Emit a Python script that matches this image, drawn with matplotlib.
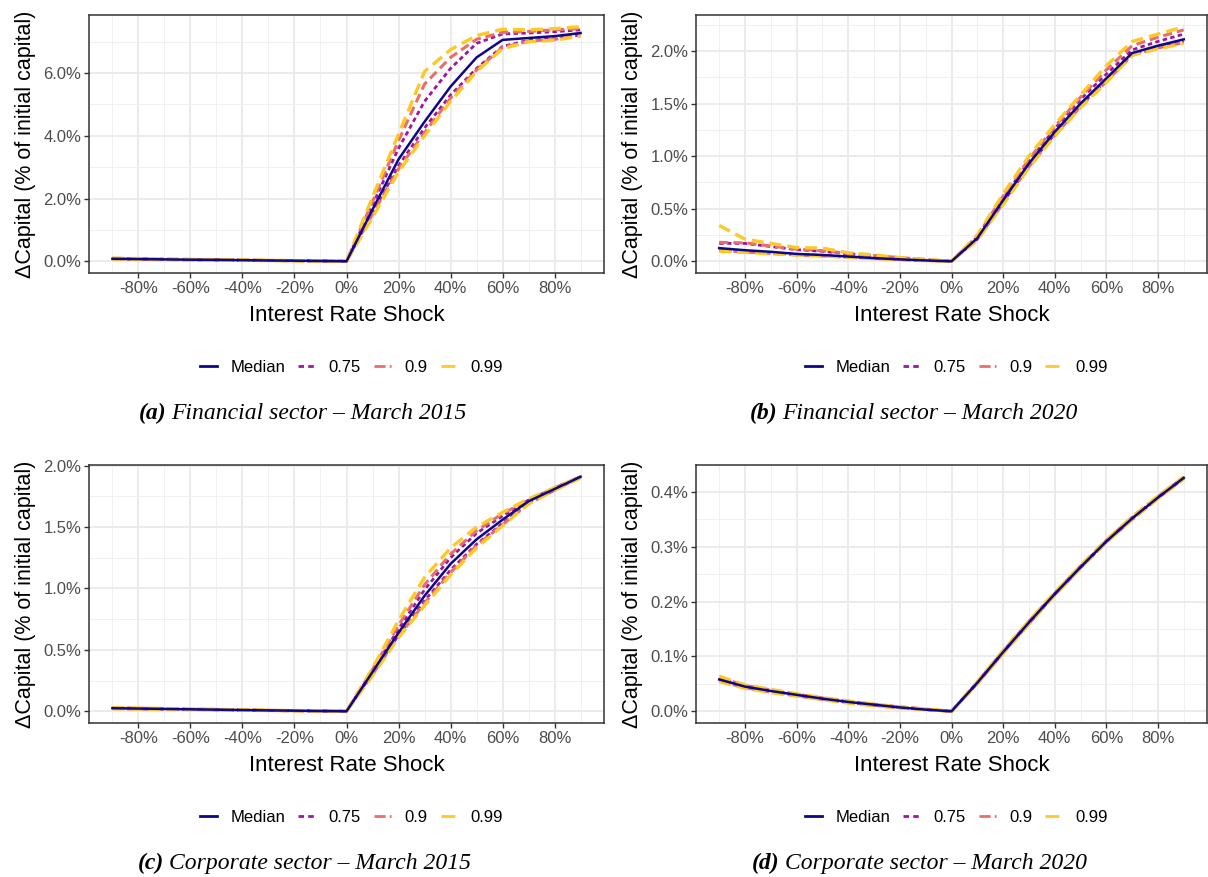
import numpy as np
import matplotlib
matplotlib.use("Agg")
import matplotlib.pyplot as plt
from matplotlib.ticker import FixedLocator

plt.rcParams["font.family"] = ["Liberation Sans", "DejaVu Sans"]

shock = [-90, -80, -70, -60, -50, -40, -30, -20, -10, 0, 10, 20, 30, 40, 50, 60, 70, 80, 90]

# (a) Financial sector - March 2015
a_med   = [0.080, 0.070, 0.060, 0.050, 0.045, 0.035, 0.025, 0.018, 0.010, 0, 1.65, 3.25, 4.45, 5.57, 6.50, 7.06, 7.12, 7.18, 7.28]
a_q75lo = [0.075, 0.065, 0.056, 0.047, 0.042, 0.032, 0.023, 0.016, 0.009, 0, 1.55, 3.05, 4.25, 5.30, 6.15, 6.85, 7.05, 7.10, 7.22]
a_q75hi = [0.090, 0.078, 0.066, 0.055, 0.049, 0.038, 0.028, 0.020, 0.011, 0, 1.80, 3.60, 5.10, 6.15, 6.95, 7.25, 7.28, 7.32, 7.38]
a_q90lo = [0.072, 0.062, 0.054, 0.045, 0.040, 0.031, 0.022, 0.015, 0.008, 0, 1.50, 2.95, 4.10, 5.20, 6.10, 6.82, 7.02, 7.08, 7.20]
a_q90hi = [0.095, 0.082, 0.070, 0.058, 0.051, 0.040, 0.030, 0.021, 0.012, 0, 1.90, 3.85, 5.65, 6.50, 7.08, 7.30, 7.33, 7.38, 7.42]
a_q99lo = [0.068, 0.058, 0.050, 0.042, 0.038, 0.029, 0.020, 0.014, 0.007, 0, 1.40, 2.85, 4.00, 5.10, 6.05, 6.78, 7.00, 7.05, 7.18]
a_q99hi = [0.100, 0.086, 0.074, 0.062, 0.054, 0.043, 0.032, 0.023, 0.013, 0, 2.05, 4.05, 6.05, 6.75, 7.20, 7.40, 7.38, 7.42, 7.48]

# (b) Financial sector - March 2020
b_med   = [0.125, 0.105, 0.090, 0.070, 0.060, 0.045, 0.030, 0.018, 0.008, 0, 0.22, 0.58, 0.93, 1.23, 1.50, 1.74, 1.98, 2.05, 2.11]
b_q75lo = [0.105, 0.090, 0.080, 0.065, 0.055, 0.040, 0.028, 0.016, 0.007, 0, 0.21, 0.56, 0.91, 1.21, 1.48, 1.72, 1.97, 2.03, 2.09]
b_q75hi = [0.170, 0.170, 0.140, 0.110, 0.095, 0.070, 0.050, 0.030, 0.015, 0, 0.23, 0.60, 0.95, 1.26, 1.54, 1.78, 2.01, 2.09, 2.16]
b_q90lo = [0.100, 0.090, 0.075, 0.060, 0.050, 0.040, 0.027, 0.015, 0.007, 0, 0.21, 0.55, 0.90, 1.20, 1.47, 1.71, 1.96, 2.03, 2.08]
b_q90hi = [0.180, 0.175, 0.145, 0.115, 0.100, 0.075, 0.055, 0.035, 0.017, 0, 0.24, 0.62, 0.97, 1.28, 1.56, 1.82, 2.05, 2.13, 2.20]
b_q99lo = [0.095, 0.085, 0.070, 0.060, 0.050, 0.038, 0.025, 0.015, 0.006, 0, 0.20, 0.54, 0.89, 1.19, 1.46, 1.70, 1.96, 2.02, 2.07]
b_q99hi = [0.340, 0.210, 0.170, 0.130, 0.125, 0.080, 0.060, 0.035, 0.018, 0, 0.25, 0.64, 1.00, 1.30, 1.58, 1.86, 2.09, 2.16, 2.23]

# (c) Corporate sector - March 2015
c_med   = [0.025, 0.022, 0.019, 0.016, 0.013, 0.010, 0.007, 0.005, 0.002, 0, 0.32, 0.64, 0.94, 1.20, 1.40, 1.56, 1.71, 1.81, 1.91]
c_q75lo = [0.023, 0.020, 0.017, 0.015, 0.012, 0.009, 0.006, 0.004, 0.002, 0, 0.31, 0.62, 0.90, 1.15, 1.36, 1.53, 1.70, 1.81, 1.91]
c_q75hi = [0.027, 0.024, 0.021, 0.017, 0.014, 0.011, 0.008, 0.005, 0.003, 0, 0.33, 0.67, 0.99, 1.25, 1.45, 1.59, 1.72, 1.82, 1.91]
c_q90lo = [0.022, 0.019, 0.016, 0.014, 0.011, 0.009, 0.006, 0.004, 0.002, 0, 0.30, 0.61, 0.88, 1.13, 1.35, 1.52, 1.69, 1.80, 1.91]
c_q90hi = [0.028, 0.025, 0.022, 0.018, 0.015, 0.012, 0.008, 0.005, 0.003, 0, 0.34, 0.70, 1.03, 1.28, 1.47, 1.61, 1.72, 1.82, 1.91]
c_q99lo = [0.021, 0.018, 0.015, 0.013, 0.011, 0.008, 0.006, 0.004, 0.002, 0, 0.29, 0.60, 0.86, 1.11, 1.33, 1.51, 1.69, 1.80, 1.90]
c_q99hi = [0.030, 0.026, 0.023, 0.019, 0.016, 0.012, 0.009, 0.006, 0.003, 0, 0.35, 0.74, 1.09, 1.33, 1.50, 1.62, 1.73, 1.82, 1.91]

# (d) Corporate sector - March 2020
d_med   = [0.058, 0.045, 0.037, 0.030, 0.023, 0.017, 0.012, 0.007, 0.003, 0, 0.052, 0.108, 0.162, 0.214, 0.263, 0.310, 0.352, 0.390, 0.426]
d_q75lo = [0.056, 0.044, 0.036, 0.029, 0.022, 0.016, 0.011, 0.007, 0.003, 0, 0.051, 0.107, 0.161, 0.213, 0.262, 0.309, 0.351, 0.389, 0.425]
d_q75hi = [0.060, 0.046, 0.038, 0.031, 0.024, 0.018, 0.012, 0.008, 0.004, 0, 0.053, 0.109, 0.163, 0.215, 0.264, 0.311, 0.353, 0.391, 0.427]
d_q90lo = [0.055, 0.043, 0.035, 0.028, 0.022, 0.016, 0.011, 0.006, 0.003, 0, 0.051, 0.106, 0.160, 0.212, 0.262, 0.309, 0.350, 0.389, 0.425]
d_q90hi = [0.062, 0.047, 0.039, 0.031, 0.024, 0.018, 0.013, 0.008, 0.004, 0, 0.053, 0.110, 0.164, 0.216, 0.265, 0.312, 0.354, 0.392, 0.427]
d_q99lo = [0.054, 0.042, 0.034, 0.028, 0.021, 0.015, 0.010, 0.006, 0.003, 0, 0.050, 0.105, 0.159, 0.212, 0.261, 0.308, 0.350, 0.388, 0.424]
d_q99hi = [0.064, 0.048, 0.040, 0.032, 0.025, 0.019, 0.013, 0.008, 0.004, 0, 0.054, 0.111, 0.165, 0.217, 0.266, 0.313, 0.355, 0.393, 0.428]

legend_labels = ["Median", "0.75", "0.9", "0.99"]
captions = [("(a)", "Financial sector \u2013 March 2015"),
            ("(b)", "Financial sector \u2013 March 2020"),
            ("(c)", "Corporate sector \u2013 March 2015"),
            ("(d)", "Corporate sector \u2013 March 2020")]

col_med = "#0D0887"
col_75 = "#9C179E"
col_90 = "#E76F6A"
col_99 = "#FDC926"

W, H = 1208, 877
fig = plt.figure(figsize=(W / 100, H / 100), dpi=100)


def box(l, r, t, b):
    return [l / W, 1 - b / H, (r - l) / W, (b - t) / H]


def panel(ax, med, q75lo, q75hi, q90lo, q90hi, q99lo, q99hi, yticks, fmt):
    x = np.array(shock)
    style75 = dict(color=col_75, lw=2.0, dashes=(1.6, 1.2))
    style90 = dict(color=col_90, lw=2.2, dashes=(3.0, 1.6))
    style99 = dict(color=col_99, lw=2.4, dashes=(3.6, 1.8))
    ax.plot(x, q75lo, **style75)
    ax.plot(x, q75hi, **style75)
    ax.plot(x, q90lo, **style90)
    ax.plot(x, q90hi, **style90)
    ax.plot(x, q99lo, **style99)
    ax.plot(x, q99hi, **style99)
    ax.plot(x, med, color=col_med, lw=1.8)

    lo = min(min(med), min(q99lo))
    hi = max(max(med), max(q99hi))
    pad = (hi - lo) * 0.05
    ax.set_ylim(lo - pad, hi + pad)
    ax.set_xlim(-99, 99)

    xt = np.arange(-80, 81, 20)
    ax.set_xticks(xt)
    ax.set_xticklabels([f"{v}%" for v in xt])
    ax.xaxis.set_minor_locator(FixedLocator(np.arange(-90, 91, 20)))
    ax.set_yticks(yticks)
    ax.set_yticklabels([fmt % v for v in yticks])
    step = yticks[1] - yticks[0]
    ax.yaxis.set_minor_locator(FixedLocator(np.arange(yticks[0] + step / 2, yticks[-1] + step, step)))

    ax.grid(True, which="major", color="#EBEBEB", lw=1.4)
    ax.grid(True, which="minor", color="#F0F0F0", lw=0.7)
    ax.set_axisbelow(True)
    for s in ax.spines.values():
        s.set_color("#333333")
        s.set_linewidth(1.1)
    ax.tick_params(which="major", length=3.5, width=1.0, color="#333333",
                   labelcolor="#4D4D4D", labelsize=12, pad=2)
    ax.tick_params(which="minor", length=0)

    ax.set_xlabel("Interest Rate Shock", fontsize=16, labelpad=7)
    ax.set_ylabel("\u0394Capital (% of initial capital)", fontsize=15.5, labelpad=5)

    handles = [
        plt.Line2D([], [], color=col_med, lw=2.0),
        plt.Line2D([], [], color=col_75, lw=2.0, dashes=(2.0, 1.5)),
        plt.Line2D([], [], color=col_90, lw=2.0, dashes=(4, 1.5)),
        plt.Line2D([], [], color=col_99, lw=2.0, dashes=(5, 1.5)),
    ]
    ax.legend(handles, legend_labels, loc="center", bbox_to_anchor=(0.51, -0.365),
              ncol=4, frameon=False, fontsize=12, handlelength=1.0,
              handletextpad=0.8, columnspacing=0.8)


ax_a = fig.add_axes(box(89, 604, 15, 273))
ax_b = fig.add_axes(box(696, 1207, 15, 273))
ax_c = fig.add_axes(box(89, 604, 465, 723))
ax_d = fig.add_axes(box(696, 1207, 465, 723))

panel(ax_a, a_med, a_q75lo, a_q75hi, a_q90lo, a_q90hi, a_q99lo, a_q99hi, [0, 2, 4, 6], "%.1f%%")
panel(ax_b, b_med, b_q75lo, b_q75hi, b_q90lo, b_q90hi, b_q99lo, b_q99hi, [0, 0.5, 1.0, 1.5, 2.0], "%.1f%%")
panel(ax_c, c_med, c_q75lo, c_q75hi, c_q90lo, c_q90hi, c_q99lo, c_q99hi, [0, 0.5, 1.0, 1.5, 2.0], "%.1f%%")
panel(ax_d, d_med, d_q75lo, d_q75hi, d_q90lo, d_q90hi, d_q99lo, d_q99hi, [0, 0.1, 0.2, 0.3, 0.4], "%.1f%%")

# sub-captions
cap_pos = [(139, 419), (750, 419), (138, 869), (752, 869)]
for (tag, txt), (px, py) in zip(captions, cap_pos):
    t1 = fig.text(px / W, 1 - py / H, tag, fontsize=17, family="Liberation Serif",
                  style="italic", weight="bold", va="baseline", ha="left")
    fig.canvas.draw()
    bb = t1.get_window_extent()
    fig.text((bb.x1 + 5) / W, 1 - py / H, txt, fontsize=17, family="Liberation Serif",
             style="italic", va="baseline", ha="left")

fig.savefig("out.png", dpi=100)
